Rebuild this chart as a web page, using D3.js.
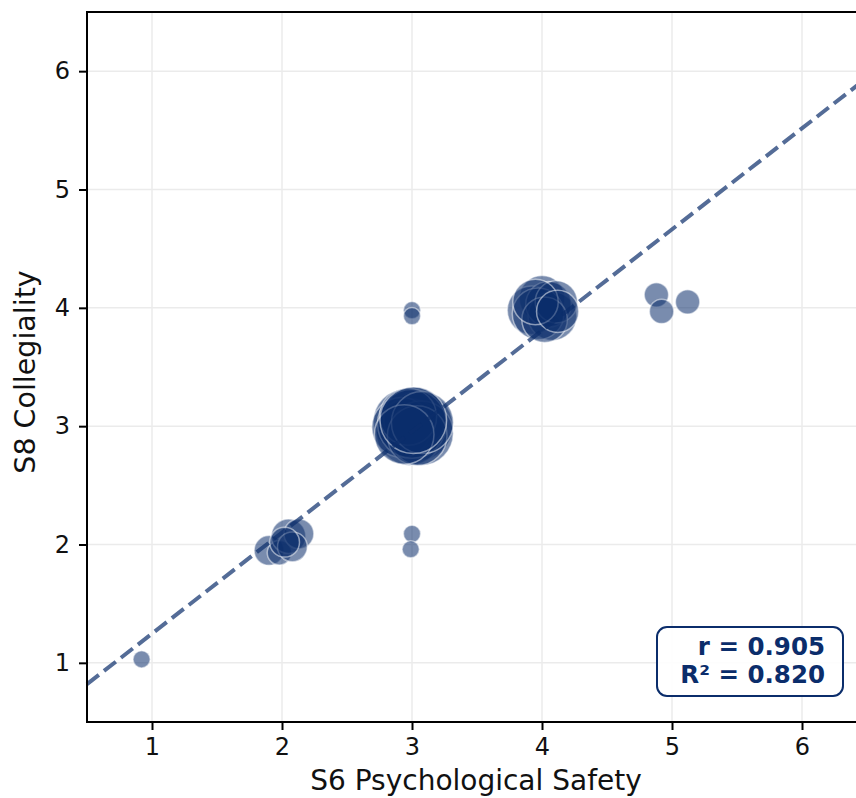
<!doctype html>
<html lang="en">
<head>
<meta charset="utf-8">
<script src="https://d3js.org/d3.v7.min.js"></script>
<style>
  body { margin: 0; background: #fff; }
  svg text { font-family: "DejaVu Sans", sans-serif; }
</style>
</head>
<body>
<svg id="chart" width="856" height="798"></svg>
<script>
// S6 Psychological Safety (x), S8 Collegiality (y), jittered Likert scores
const psych  = [0.92, 1.90, 1.98, 2.05, 2.13, 2.08, 2.02, 3.00, 2.99, 3.00, 3.00,
                2.95, 3.05, 2.98, 3.02, 2.92, 3.07, 3.00, 2.97, 3.04, 3.08, 2.94, 3.01,
                4.00, 3.92, 4.08, 4.05, 3.97, 4.11, 4.02, 3.95, 4.12,
                4.88, 4.92, 5.12];
const colleg = [1.03, 1.95, 1.93, 2.07, 2.09, 1.98, 2.02, 2.09, 1.96, 3.98, 3.93,
                3.04, 3.00, 2.95, 3.07, 2.99, 2.94, 3.02, 3.08, 2.92, 3.03, 2.93, 3.05,
                4.08, 3.98, 3.93, 4.03, 3.95, 4.05, 3.90, 4.05, 3.97,
                4.11, 3.97, 4.05];
const respondents = [1, 3, 2, 4, 3, 3, 3, 1, 1, 1, 1,
                     14, 16, 15, 13, 12, 14, 16, 11, 12, 13, 12, 15,
                     7, 8, 8, 7, 9, 6, 7, 7, 6,
                     2, 2, 2];
const ticks = [1, 2, 3, 4, 5, 6];
const fitSlope = 0.854, fitIntercept = 0.393;
const stats = ["r = 0.905", "R\u00b2 = 0.820"];

const navy = "#0b2d6b";
const svg = d3.select("#chart");
const m = { left: 87, right: 867, top: 12, bottom: 722 };

const x = d3.scaleLinear().domain([0.5, 6.5]).range([m.left, m.right]);
const y = d3.scaleLinear().domain([0.5, 6.5]).range([m.bottom, m.top]);
const r = d3.scaleSqrt().domain([0, 1]).range([0, 8.6]);

// grid
const grid = svg.append("g");
grid.selectAll(".gx").data(ticks).join("line")
  .attr("x1", d => x(d)).attr("x2", d => x(d))
  .attr("y1", m.top).attr("y2", m.bottom)
  .attr("stroke", "#ebebeb").attr("stroke-width", 1.5);
grid.selectAll(".gy").data(ticks).join("line")
  .attr("y1", d => y(d)).attr("y2", d => y(d))
  .attr("x1", m.left).attr("x2", m.right)
  .attr("stroke", "#ebebeb").attr("stroke-width", 1.5);

// points
const pts = psych.map((d, i) => ({ x: d, y: colleg[i], n: respondents[i] }));
svg.append("g").selectAll("circle").data(pts).join("circle")
  .attr("cx", d => x(d.x)).attr("cy", d => y(d.y)).attr("r", d => r(d.n))
  .attr("fill", navy).attr("fill-opacity", 0.55)
  .attr("stroke", "#fff").attr("stroke-opacity", 0.5).attr("stroke-width", 1.5);

// regression line
svg.append("line")
  .attr("x1", x(0.5)).attr("y1", y(fitIntercept + fitSlope * 0.5))
  .attr("x2", x(6.5)).attr("y2", y(fitIntercept + fitSlope * 6.5))
  .attr("stroke", navy).attr("stroke-opacity", 0.7)
  .attr("stroke-width", 4).attr("stroke-dasharray", "15 6.5");

// axes
const xAxis = svg.append("g").attr("transform", `translate(0,${m.bottom})`)
  .call(d3.axisBottom(x).tickValues(ticks).tickSize(8).tickPadding(8).tickFormat(d3.format("d")));
const yAxis = svg.append("g").attr("transform", `translate(${m.left},0)`)
  .call(d3.axisLeft(y).tickValues(ticks).tickSize(8).tickPadding(9).tickFormat(d3.format("d")));
[xAxis, yAxis].forEach(a => {
  a.select(".domain").remove();
  a.selectAll(".tick line").attr("stroke", "#000").attr("stroke-width", 2);
  a.selectAll(".tick text").attr("font-size", 24).attr("fill", "#111")
    .attr("font-family", "DejaVu Sans");
});

// spines
svg.append("path")
  .attr("d", `M${m.right},${m.top}H${m.left}V${m.bottom}H${m.right}`)
  .attr("fill", "none").attr("stroke", "#000").attr("stroke-width", 2);

// axis labels
svg.append("text").attr("x", (m.left + m.right) / 2 - 1).attr("y", 790)
  .attr("text-anchor", "middle").attr("font-size", 28).attr("fill", "#111")
  .text("S6 Psychological Safety");
svg.append("text").attr("transform", `translate(35,${(m.top + m.bottom) / 2 + 5}) rotate(-90)`)
  .attr("text-anchor", "middle").attr("font-size", 28.5).attr("fill", "#111")
  .text("S8 Collegiality");

// stats box
const box = svg.append("g");
box.append("rect").attr("x", 657).attr("y", 627).attr("width", 186).attr("height", 69)
  .attr("rx", 10).attr("fill", "#fff").attr("fill-opacity", 0.9)
  .attr("stroke", navy).attr("stroke-width", 2);
box.selectAll("text").data(stats).join("text")
  .attr("x", 825).attr("y", (d, i) => 655 + i * 28)
  .attr("text-anchor", "end").attr("font-size", 24.5).attr("font-weight", "bold")
  .attr("fill", navy).text(d => d);
</script>
</body>
</html>
